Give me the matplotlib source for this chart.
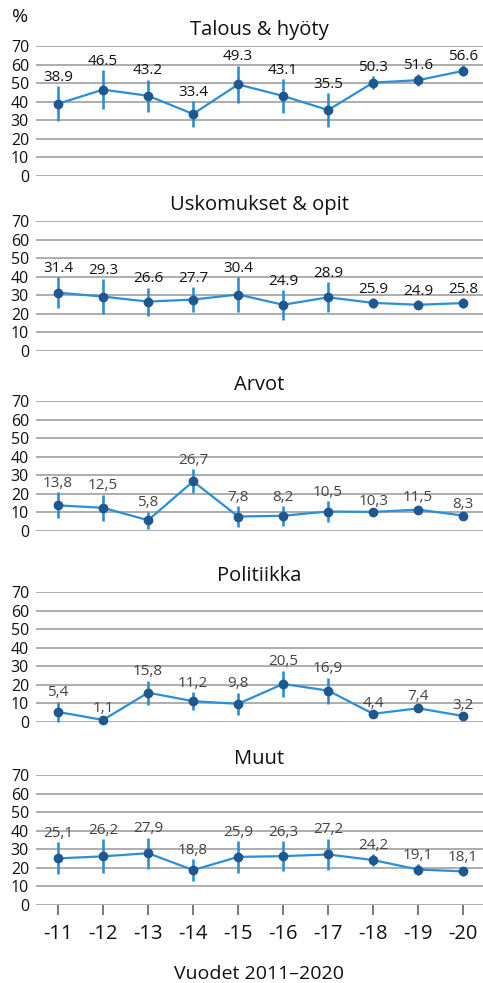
import numpy as np
import matplotlib
matplotlib.use("Agg")
import matplotlib.pyplot as plt

plt.rcParams['font.family'] = ['Open Sans', 'DejaVu Sans']

years = ['-11', '-12', '-13', '-14', '-15', '-16', '-17', '-18', '-19', '-20']

titles = ['Talous & hyöty', 'Uskomukset & opit', 'Arvot', 'Politiikka', 'Muut']

talous = [38.9, 46.5, 43.2, 33.4, 49.3, 43.1, 35.5, 50.3, 51.6, 56.6]
talous_ci = [9.4, 10.5, 8.7, 6.9, 10.0, 9.0, 9.0, 3.3, 3.2, 3.0]

uskomukset = [31.4, 29.3, 26.6, 27.7, 30.4, 24.9, 28.9, 25.9, 24.9, 25.8]
uskomukset_ci = [8.5, 9.5, 7.5, 6.7, 9.5, 8.0, 8.0, 2.5, 2.5, 2.5]

arvot = [13.8, 12.5, 5.8, 26.7, 7.8, 8.2, 10.5, 10.3, 11.5, 8.3]
arvot_ci = [7.0, 7.0, 4.6, 6.5, 5.6, 5.3, 5.4, 1.0, 1.5, 1.0]

politiikka = [5.4, 1.1, 15.8, 11.2, 9.8, 20.5, 16.9, 4.4, 7.4, 3.2]
politiikka_ci = [5.5, 1.5, 6.5, 5.0, 6.0, 7.2, 7.0, 1.0, 1.5, 1.0]

muut = [25.1, 26.2, 27.9, 18.8, 25.9, 26.3, 27.2, 24.2, 19.1, 18.1]
muut_ci = [8.6, 9.2, 8.3, 5.8, 8.5, 8.0, 8.5, 3.0, 2.8, 2.5]

# first two panels print decimals with a point, the rest with a comma
label_sep = ['.', '.', ',', ',', ',']
label_color = ['#111111', '#111111', '#444444', '#444444', '#444444']

series = [talous, uskomukset, arvot, politiikka, muut]
cis = [talous_ci, uskomukset_ci, arvot_ci, politiikka_ci, muut_ci]

W, H = 483, 983
fig = plt.figure(figsize=(W / 100, H / 100), dpi=100)

zero_px = [176, 351, 531, 722, 905]  # pixel row of the 0 gridline in each panel
panel_h = 130
left_px, right_px = 36, 483

line_col = '#2a8fd6'
marker_col = '#1f5791'
grid_col = '#a0a0a0'

x = np.arange(len(years))

for i in range(5):
    ax = fig.add_axes([left_px / W, 1 - zero_px[i] / H, (right_px - left_px) / W, panel_h / H])
    vals = np.array(series[i])
    ci = np.array(cis[i])

    for yv in range(0, 80, 10):
        ax.axhline(yv, color=grid_col, lw=1.2, zorder=0)

    ax.errorbar(x, vals, yerr=ci, fmt='none', ecolor=line_col, elinewidth=1.9,
                capsize=0, zorder=2, clip_on=False)
    ax.plot(x, vals, color=line_col, lw=1.6, zorder=3, clip_on=False)
    ax.plot(x, vals, 'o', color=marker_col, ms=6, zorder=4, clip_on=False)

    for xi, v, c in zip(x, vals, ci):
        txt = ('%.1f' % v).replace('.', label_sep[i])
        ax.annotate(txt, (xi, v + c), xytext=(0, 1), textcoords='offset points',
                    ha='center', va='bottom', fontsize=11, color=label_color[i])

    ax.set_xlim(-0.49, 9.44)
    ax.set_ylim(0, 70)
    ax.set_yticks(range(0, 80, 10))
    ax.tick_params(axis='y', length=0, pad=5, labelsize=11.5, labelcolor='#111111')
    for s in ax.spines.values():
        s.set_visible(False)
    ax.set_title(titles[i], fontsize=14.5, pad=8, color='#111111')

    if i == 4:
        ax.set_xticks(x)
        ax.set_xticklabels(years)
        ax.tick_params(axis='x', length=7.5, width=1.3, color='#707070', pad=6,
                       labelsize=14.5, labelcolor='#111111')
        ax.set_xlabel('Vuodet 2011–2020', fontsize=14, labelpad=15, color='#111111')
    else:
        ax.set_xticks([])

fig.text(20 / W, 1 - 17 / H, '%', fontsize=14, ha='center', va='center', color='#111111')

fig.savefig('out.png', dpi=100)
